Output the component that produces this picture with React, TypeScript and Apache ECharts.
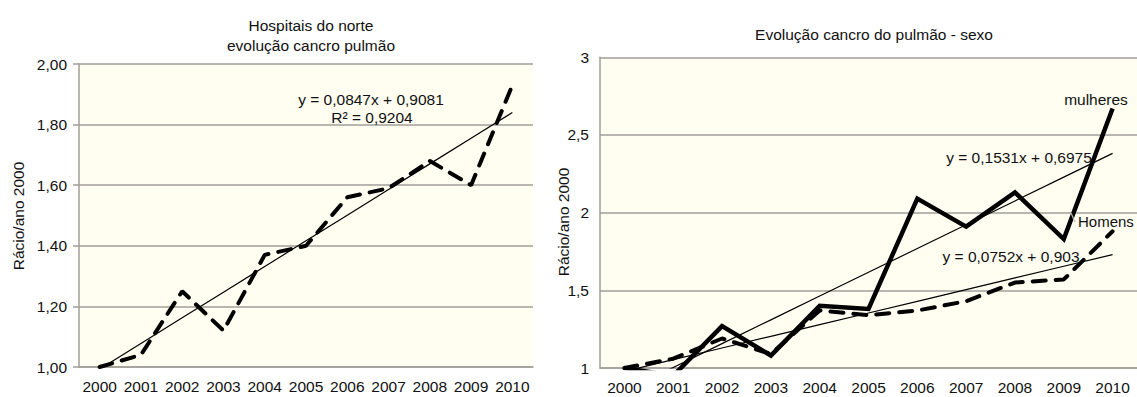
import React, { useEffect, useRef } from "react";
import * as echarts from "echarts";

// ---- data ----
const years = ["2000", "2001", "2002", "2003", "2004", "2005", "2006", "2007", "2008", "2009", "2010"];
const norteRatio = [1.0, 1.04, 1.25, 1.12, 1.37, 1.4, 1.56, 1.59, 1.68, 1.6, 1.93];
const mulheresRatio = [1.0, 0.95, 1.27, 1.08, 1.4, 1.38, 2.09, 1.91, 2.13, 1.83, 2.67];
const homensRatio = [1.0, 1.06, 1.19, 1.09, 1.37, 1.34, 1.37, 1.43, 1.55, 1.57, 1.88];
// regression coefficients shown on the chart (x = 1..11)
const norteTrendCoef = [0.0847, 0.9081];
const mulheresTrendCoef = [0.1531, 0.6975];
const homensTrendCoef = [0.0752, 0.903];
const leftTitle = "Hospitais do norte\nevolução cancro pulmão";
const rightTitle = "Evolução cancro do pulmão - sexo";
const yName = "Rácio/ano 2000";
const norteEq = "y = 0,0847x + 0,9081";
const norteR2 = "R² = 0,9204";
const mulheresEq = "y = 0,1531x + 0,6975";
const homensEq = "y = 0,0752x + 0,903";
const mulheresLabel = "mulheres";
const homensLabel = "Homens";

const trend = (coef: number[]) => years.map((_, i) => +(coef[1] + coef[0] * (i + 1)).toFixed(4));

const FONT = '"Liberation Sans", Arial, Helvetica, sans-serif';
const FS = 15.5;
const GRID_COLOR = "#A09E97";
const BG = "#FFFEF1";
const INK = "#111";

export default function App() {
  const ref = useRef<HTMLDivElement>(null);
  useEffect(() => {
    if (!ref.current) return;
    const chart = echarts.init(ref.current, undefined, { renderer: "svg" });
    const xAxisBase = (gridIndex: number) => ({
      type: "category",
      gridIndex,
      data: years,
      boundaryGap: true,
      axisLine: { show: true, lineStyle: { color: GRID_COLOR, width: 1.5 } },
      axisTick: { show: false },
      axisLabel: { color: INK, fontSize: FS, fontFamily: FONT, margin: 11, interval: 0 },
      splitLine: { show: false },
    });
    const txt = (text: string, x: number, y: number, align = "center", extra: any = {}, fs = FS) => ({
      type: "text",
      x,
      y,
      z: 100,
      ...extra,
      style: {
        text,
        fill: INK,
        fontSize: fs,
        fontFamily: FONT,
        align,
        verticalAlign: "middle",
        textAlign: align,
        textVerticalAlign: "middle",
      },
    });
    const option: any = {
      animation: false,
      backgroundColor: "#ffffff",
      title: [
        {
          text: leftTitle,
          left: 306,
          top: 11,
          textAlign: "center",
          textStyle: { color: INK, fontSize: FS, fontWeight: "normal", fontFamily: FONT, lineHeight: 19.5 },
        },
        {
          text: rightTitle,
          left: 869,
          top: 20,
          textAlign: "center",
          textStyle: { color: INK, fontSize: FS, fontWeight: "normal", fontFamily: FONT, lineHeight: 19.5 },
        },
      ],
      grid: [
        { left: 79, top: 64, width: 454, height: 303, show: true, backgroundColor: BG, borderWidth: 0 },
        { left: 600, top: 57.3, width: 540, height: 310.7, show: true, backgroundColor: BG, borderWidth: 0 },
      ],
      xAxis: [xAxisBase(0), xAxisBase(1)],
      yAxis: [
        {
          type: "value",
          gridIndex: 0,
          min: 1,
          max: 2,
          interval: 0.2,
          axisLine: { show: true, lineStyle: { color: GRID_COLOR, width: 1.5 } },
          axisTick: { show: true, length: 6, lineStyle: { color: GRID_COLOR, width: 1.5 } },
          splitLine: { show: true, lineStyle: { color: GRID_COLOR, width: 1.5 } },
          axisLabel: {
            color: INK,
            fontSize: FS,
            fontFamily: FONT,
            margin: 12,
            formatter: (v: number) => v.toFixed(2).replace(".", ","),
          },
        },
        {
          type: "value",
          gridIndex: 1,
          min: 1,
          max: 3,
          interval: 0.5,
          axisLine: { show: true, lineStyle: { color: GRID_COLOR, width: 1.5 } },
          axisTick: { show: false },
          splitLine: { show: true, lineStyle: { color: GRID_COLOR, width: 1.5 } },
          axisLabel: {
            color: INK,
            fontSize: FS,
            fontFamily: FONT,
            margin: 11,
            formatter: (v: number) => String(+v.toFixed(1)).replace(".", ","),
          },
        },
      ],
      series: [
        {
          type: "line",
          xAxisIndex: 0,
          yAxisIndex: 0,
          data: trend(norteTrendCoef),
          symbol: "none",
          lineStyle: { color: "#000", width: 1.2 },
          z: 2,
        },
        {
          type: "line",
          xAxisIndex: 0,
          yAxisIndex: 0,
          data: norteRatio,
          symbol: "none",
          lineStyle: { color: "#000", width: 4, type: [13, 10], cap: "round" },
          z: 3,
        },
        {
          type: "line",
          xAxisIndex: 1,
          yAxisIndex: 1,
          data: trend(mulheresTrendCoef),
          symbol: "none",
          lineStyle: { color: "#000", width: 1.2 },
          z: 2,
        },
        {
          type: "line",
          xAxisIndex: 1,
          yAxisIndex: 1,
          data: trend(homensTrendCoef),
          symbol: "none",
          lineStyle: { color: "#000", width: 1.2 },
          z: 2,
        },
        {
          type: "line",
          xAxisIndex: 1,
          yAxisIndex: 1,
          data: homensRatio,
          symbol: "none",
          lineStyle: { color: "#000", width: 4, type: [13, 10], cap: "round" },
          z: 3,
        },
        {
          type: "line",
          xAxisIndex: 1,
          yAxisIndex: 1,
          data: mulheresRatio,
          symbol: "none",
          lineStyle: { color: "#000", width: 4.5, join: "miter" },
          z: 4,
        },
      ],
      graphic: [
        txt(yName, 18, 216, "center", { rotation: Math.PI / 2 }),
        txt(yName, 563, 222, "center", { rotation: Math.PI / 2 }),
        txt(norteEq, 371, 99),
        txt(norteR2, 372, 117),
        txt(mulheresLabel, 1096, 99),
        txt(mulheresEq, 1019, 157),
        txt(homensLabel, 1078, 221, "left", {}, 15),
        txt(homensEq, 1011, 256),
        {
          type: "line",
          z: 100,
          shape: { x1: 1071, y1: 213, x2: 1075, y2: 222 },
          style: { stroke: "#bbb", lineWidth: 1.2 },
        },
      ],
    };
    chart.setOption(option);
    return () => chart.dispose();
  }, []);
  return (
    <div
      ref={ref}
      style={{ position: "fixed", left: 0, top: 0, width: 1137, height: 397, background: "#fff" }}
    />
  );
}
